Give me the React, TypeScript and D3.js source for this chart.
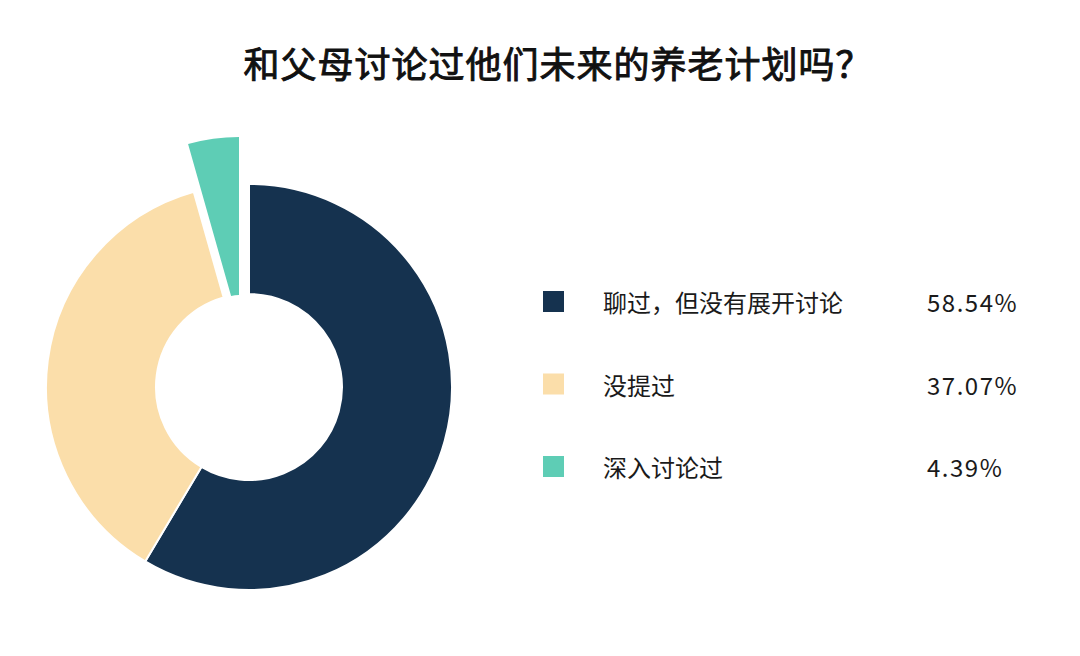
import { useEffect, useRef } from "react";
import * as d3 from "d3";

const title = "和父母讨论过他们未来的养老计划吗？";
const categories = ["聊过，但没有展开讨论", "没提过", "深入讨论过"];
const values = [58.54, 37.07, 4.39];
const valueLabels = ["58.54%", "37.07%", "4.39%"];
const colors = ["#15324f", "#fbdeaa", "#5ecdb5"];

export default function App() {
  const ref = useRef<SVGSVGElement | null>(null);

  useEffect(() => {
    const width = 1080;
    const height = 656;
    const cx = 249;
    const cy = 387;
    const outer = 203;
    const inner = 93;

    const svg = d3.select(ref.current);
    svg.selectAll("*").remove();

    svg.append("rect").attr("width", width).attr("height", height).attr("fill", "#fff");

    svg
      .append("text")
      .attr("x", 558)
      .attr("y", 62)
      .attr("text-anchor", "middle")
      .attr("dominant-baseline", "central")
      .attr("font-family", "'Noto Sans CJK SC', sans-serif")
      .attr("font-size", 36)
      .attr("font-weight", 400)
      .attr("letter-spacing", 1)
      .attr("fill", "#111")
      .attr("stroke", "#111")
      .attr("stroke-width", 0.9)
      .text(title);

    const data = categories.map((c, i) => ({ name: c, value: values[i], i }));
    const pie = d3
      .pie<{ name: string; value: number; i: number }>()
      .sort(null)
      .value((d) => d.value);
    const arcs = pie(data);

    const arc = d3
      .arc<d3.PieArcDatum<{ name: string; value: number; i: number }>>()
      .innerRadius(inner)
      .outerRadius(outer);

    // the small slice is pulled out and drawn with its own radii
    const pulled = d3
      .arc<d3.PieArcDatum<{ name: string; value: number; i: number }>>()
      .innerRadius(29)
      .outerRadius(187);

    const g = svg.append("g").attr("transform", `translate(${cx},${cy})`);

    arcs.forEach((a, i) => {
      if (i === arcs.length - 1) {
        g.append("path")
          .attr("transform", "translate(-10,-63)")
          .attr("d", pulled(a) as string)
          .attr("fill", colors[i]);
      } else {
        g.append("path")
          .attr("d", arc(a) as string)
          .attr("fill", colors[i])
          .attr("stroke", "#fff")
          .attr("stroke-width", 2);
      }
    });

    const legendY = d3
      .scalePoint<string>()
      .domain(categories)
      .range([301.5, 466.5]);

    const legend = svg
      .append("g")
      .attr("font-family", "'Noto Sans CJK SC', sans-serif")
      .attr("fill", "#1a1a1a");

    categories.forEach((c, i) => {
      const y = legendY(c) as number;
      legend
        .append("rect")
        .attr("x", 543)
        .attr("y", y - 10.5)
        .attr("width", 21)
        .attr("height", 21)
        .attr("fill", colors[i]);
      legend
        .append("text")
        .attr("x", 603)
        .attr("y", y)
        .attr("dominant-baseline", "central")
        .attr("font-size", 24)
        .text(c);
      legend
        .append("text")
        .attr("x", 927)
        .attr("y", y)
        .attr("dominant-baseline", "central")
        .attr("font-size", 24)
        .attr("letter-spacing", 1.5)
        .text(valueLabels[i]);
    });
  }, []);

  return (
    <svg
      ref={ref}
      width={1080}
      height={656}
      style={{ position: "absolute", left: 0, top: 0 }}
    />
  );
}
